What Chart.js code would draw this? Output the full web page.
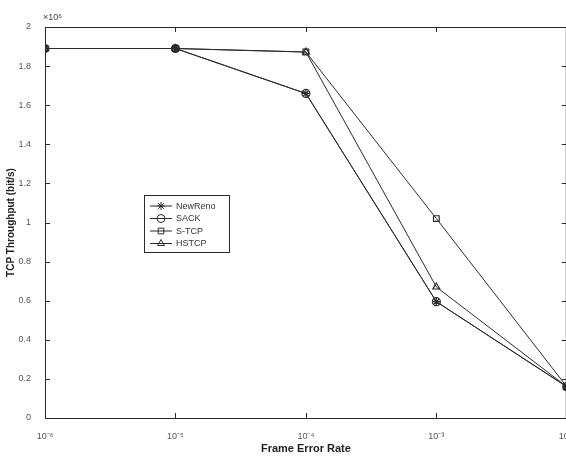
<!DOCTYPE html>
<html>
<head>
<meta charset="utf-8">
<script src="https://cdn.jsdelivr.net/npm/chart.js@4.4.1/dist/chart.umd.min.js"></script>
<style>
  html, body { margin: 0; padding: 0; background: #fff; overflow: hidden; }
  #wrap { width: 572px; height: 456px; }
</style>
</head>
<body>
<div id="wrap"><canvas id="tput"></canvas></div>
<script>
// frame error rate (x) and throughput in bit/s for each TCP variant
const frameErrorRates = [1e-6, 1e-5, 1e-4, 1e-3, 1e-2];
const xTickLabels = ['10\u207B\u2076', '10\u207B\u2075', '10\u207B\u2074', '10\u207B\u00B3', '10\u207B\u00B2'];
const newRenoTput = [1.89e6, 1.89e6, 1.66e6, 0.595e6, 0.16e6];
const sackTput    = [1.89e6, 1.89e6, 1.66e6, 0.595e6, 0.16e6];
const sTcpTput    = [1.89e6, 1.89e6, 1.872e6, 1.02e6, 0.16e6];
const hsTcpTput   = [1.89e6, 1.89e6, 1.872e6, 0.67e6, 0.16e6];
const seriesNames = ['NewReno', 'SACK', 'S-TCP', 'HSTCP'];

const ink = '#2b2b2b';
const font = "'Liberation Sans', Arial, sans-serif";

function pts(vals) {
    return frameErrorRates.map((x, i) => ({ x: x, y: vals[i] }));
}

function series(label, vals, style) {
    return {
        label: label,
        data: pts(vals),
        borderColor: ink,
        borderWidth: 1,
        pointStyle: style,
        pointRadius: 4,
        pointBorderWidth: 1.2,
        pointBorderColor: ink,
        pointBackgroundColor: 'rgba(0,0,0,0)',
        tension: 0
    };
}

// box, inward ticks, exponent note and legend like a matlab figure
const matlabFrame = {
    id: 'matlabFrame',
    afterDraw(chart) {
        const c = chart.ctx;
        const a = chart.chartArea;
        const xs = chart.scales.x, ys = chart.scales.y;
        c.save();
        c.strokeStyle = ink;
        c.lineWidth = 1;
        c.strokeRect(a.left + 0.5, a.top + 0.5, a.right - a.left - 1, a.bottom - a.top);
        c.beginPath();
        xs.ticks.forEach(t => {
            const px = Math.round(xs.getPixelForValue(t.value)) + 0.5;
            c.moveTo(px, a.bottom); c.lineTo(px, a.bottom - 5);
            c.moveTo(px, a.top); c.lineTo(px, a.top + 5);
        });
        ys.ticks.forEach(t => {
            const py = Math.round(ys.getPixelForValue(t.value)) + 0.5;
            c.moveTo(a.left, py); c.lineTo(a.left + 5, py);
            c.moveTo(a.right, py); c.lineTo(a.right - 5, py);
        });
        c.stroke();

        c.fillStyle = '#444';
        c.font = '9px ' + font;
        c.textBaseline = 'alphabetic';
        c.fillText('\u00D710\u2076', a.left - 2, a.top - 7);

        // legend
        const lx = 144, ly = 195, lw = 85, lh = 57;
        c.fillStyle = '#fff';
        c.fillRect(lx, ly, lw, lh);
        c.strokeRect(lx + 0.5, ly + 0.5, lw, lh);
        chart.data.datasets.forEach((ds, i) => {
            const yy = ly + 11 + i * 12.5;
            c.strokeStyle = ink;
            c.beginPath();
            c.moveTo(lx + 6, yy); c.lineTo(lx + 28, yy);
            c.stroke();
            c.fillStyle = 'rgba(0,0,0,0)';
            Chart.helpers.drawPoint(c, {
                pointStyle: ds.pointStyle, radius: 4, rotation: 0, borderWidth: 1.2
            }, lx + 17, yy);
            c.fillStyle = '#333';
            c.font = '9px ' + font;
            c.textBaseline = 'middle';
            c.fillText(ds.label, lx + 32, yy + 0.5);
        });
        c.restore();
    }
};

new Chart(document.getElementById('tput'), {
    type: 'line',
    data: {
        datasets: [
            series(seriesNames[0], newRenoTput, 'star'),
            series(seriesNames[1], sackTput, 'circle'),
            series(seriesNames[2], sTcpTput, 'rect'),
            series(seriesNames[3], hsTcpTput, 'triangle')
        ]
    },
    options: {
        responsive: true,
        maintainAspectRatio: false,
        animation: false,
        layout: { padding: { top: 27, right: 1, left: 0, bottom: 0 } },
        plugins: { legend: { display: false }, tooltip: { enabled: false } },
        scales: {
            x: {
                type: 'logarithmic',
                min: 1e-6,
                max: 1e-2,
                afterBuildTicks: (s) => { s.ticks = frameErrorRates.map(v => ({ value: v })); },
                afterFit: (s) => { s.height = 38; s.paddingLeft = 0; s.paddingRight = 0; },
                grid: { display: false },
                border: { display: false },
                ticks: {
                    color: '#555',
                    font: { family: font, size: 9 },
                    padding: 5,
                    maxRotation: 0,
                    callback: (v, i) => xTickLabels[i]
                },
                title: {
                    display: true,
                    text: 'Frame Error Rate',
                    color: '#222',
                    font: { family: font, size: 11, weight: 'bold' },
                    padding: { top: 2, bottom: 0 }
                }
            },
            y: {
                min: 0,
                max: 2e6,
                afterFit: (s) => { s.width = 45; },
                grid: { display: false },
                border: { display: false },
                ticks: {
                    stepSize: 2e5,
                    color: '#555',
                    font: { family: font, size: 9 },
                    padding: 6,
                    callback: (v) => String(+(v / 1e6).toFixed(1))
                },
                title: {
                    display: true,
                    text: 'TCP Throughput (bit/s)',
                    color: '#222',
                    font: { family: font, size: 10, weight: 'bold' },
                    padding: { top: 5, bottom: 2 }
                }
            }
        }
    },
    plugins: [matlabFrame]
});
</script>
</body>
</html>
